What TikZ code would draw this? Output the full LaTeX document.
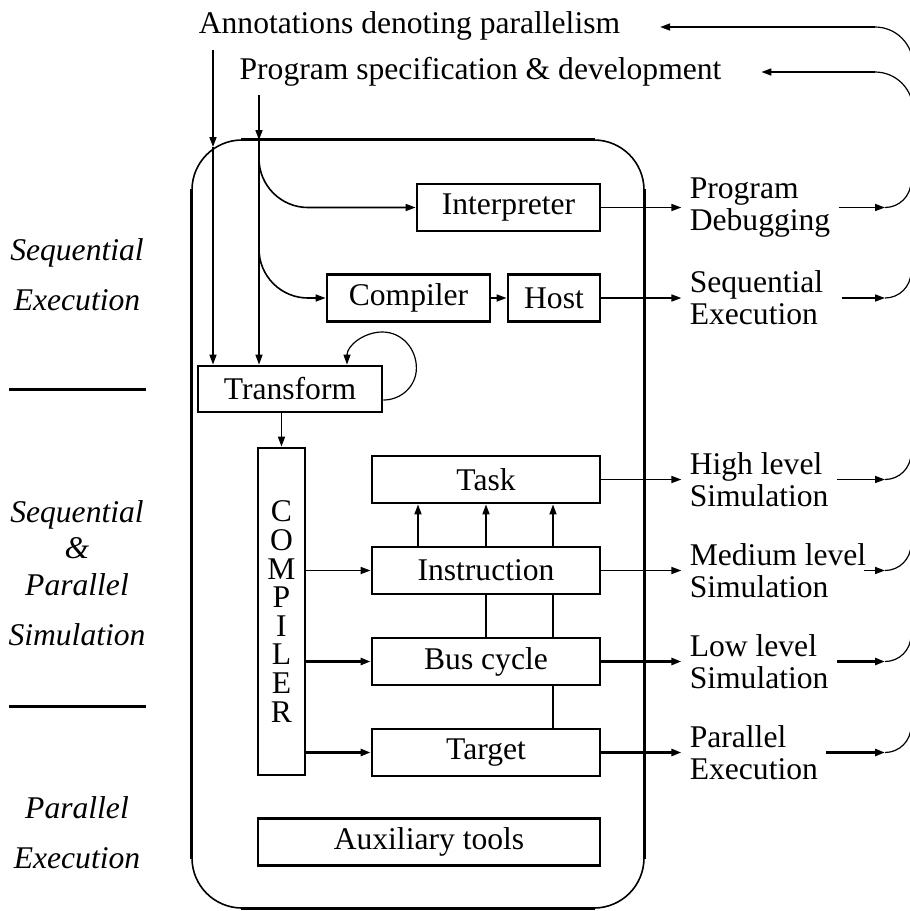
\documentclass[tikz,border=0pt]{standalone}
\usepackage{fontspec}
\setmainfont{Liberation Serif}
\usetikzlibrary{arrows.meta,positioning,calc}
\tikzset{
  blk/.style={draw, line width=1.4pt, inner sep=0pt, minimum height=23.5pt},
  conn/.style={-{Triangle[length=5pt,width=3.5pt]}, line width=0.8pt},
  heavy/.style={conn, line width=1.5pt},
  fback/.style={line width=0.6pt},
  outlbl/.style={align=left, inner xsep=4pt, inner ysep=0pt},
  toplbl/.style={anchor=base, inner sep=0pt, outer xsep=20pt},
  phase/.style={align=center, inner sep=0pt, font=\fontsize{15.8}{25}\selectfont\itshape},
  rule/.style={line width=1.5pt}
}

\begin{document}
\begin{tikzpicture}[x=0.5pt, y=0.5pt, font=\fontsize{15.8}{16}\selectfont, node distance=20.6pt]
  \useasboundingbox (0,0) rectangle (910,-911);
  % inputs at the top
  \node[toplbl] (annot) at (409.5,-33) {Annotations denoting parallelism};
  \node[toplbl] (spec) at (480.5,-79) {Program specification \& development};
  % the environment
  \node[draw, line width=0.8pt, rounded corners=25pt, minimum width=226pt,
        minimum height=384pt, inner sep=0pt] (frame) at (418,-524) {};
  \draw[rule] ([xshift=25pt]frame.north west) -- ([xshift=-25pt]frame.north east);
  \draw[rule] ([yshift=-25pt]frame.north west) -- ([yshift=25pt]frame.south west);
  \draw[rule] ([yshift=-25pt]frame.north east) -- ([yshift=25pt]frame.south east);
  \draw[rule] ([xshift=25pt]frame.south west) -- ([xshift=-25pt]frame.south east);
  \node[blk, minimum width=91.5pt] (interp) at (508.5,-207.5) {Interpreter};
  \node[blk, minimum width=81.5pt] (comp) at (408.5,-298) {Compiler};
  \node[blk, minimum width=46pt] (host) at (554,-298) {Host};
  \node[blk, minimum width=92pt, minimum height=23pt] (transform) at (290,-389) {Transform};
  \node[blk, minimum width=23.5pt, minimum height=163.5pt, align=center,
        font=\fontsize{15.8}{14.3}\selectfont] (compv) at (281.5,-611.5) {C\\O\\M\\P\\I\\L\\E\\R};
  \node[blk, minimum width=114pt] (task) at (486,-479.5) {Task};
  \node[blk, minimum width=114pt, below=of task] (instr) {Instruction};
  \node[blk, minimum width=114pt, below=of instr] (bus) {Bus cycle};
  \node[blk, minimum width=114pt, below=of bus] (target) {Target};
  \node[blk, minimum width=171pt] (aux) at (429,-842) {Auxiliary tools};
  % results on the right
  \node[outlbl, right=40pt of interp] (dbg) {Program\\Debugging};
  \node[outlbl, right=40pt of host] (seqx) {Sequential\\Execution};
  \node[outlbl, right=40pt of task] (hisim) {High level\\Simulation};
  \node[outlbl, right=40pt of instr] (medsim) {Medium level\\Simulation};
  \node[outlbl, right=40pt of bus] (losim) {Low level\\Simulation};
  \node[outlbl, right=40pt of target] (parx) {Parallel\\Execution};
  % phases on the left
  \node[phase] (seqexec) at (77,-275) {Sequential\\Execution};
  \node[phase] (seqpar) at (77,-573) {Sequential\\[-7pt]\&\\[-6.5pt]Parallel\\Simulation};
  \node[phase] (parexec) at (77,-832.5) {Parallel\\Execution};
  \draw[rule] (9,-389) -- (146,-389);
  \draw[rule] (9,-706) -- (146,-706);
  % inputs down into the environment
  \coordinate (annin) at (213,-50);
  \coordinate (annx) at (213,-147);
  \coordinate (specin) at (259,-95);
  \coordinate (specx) at (259,-140);
  \coordinate (br1) at (259,-157.5);
  \coordinate (br2) at (259,-248);
  \draw[conn] (annin) -- (annx);
  \draw[conn] (annx) -- (annx |- transform.north);
  \draw[conn] (specin) -- (specx);
  \draw[conn] (specx) -- (specx |- transform.north);
  \draw[conn, rounded corners=24.5pt] (br1) |- (interp.west);
  \draw[conn, rounded corners=24.5pt] (br2) |- (comp.west);
  \draw[conn] (comp) -- (host);
  \draw[conn, line width=0.6pt] ([yshift=-5.5pt]transform.east) to[out=0,in=-90] ++(16.5pt,16pt)
    to[out=90,in=0] ++(-17pt,18pt) to[out=180,in=90] ([xshift=28.5pt]transform.north);
  \draw[conn] (transform.south -| compv.north) -- (compv.north);
  \draw[conn] (compv.east |- instr.west) -- (instr.west);
  \draw[heavy] (compv.east |- bus.west) -- (bus.west);
  \draw[heavy] (compv.east |- target.west) -- (target.west);
  \draw[conn] ([xshift=-34pt]instr.north) -- ([xshift=-34pt]task.south);
  \draw[conn] (instr.north) -- (task.south);
  \draw[conn] ([xshift=33.5pt]instr.north) -- ([xshift=33.5pt]task.south);
  \draw[line width=0.8pt] (instr.south) -- (bus.north);
  \draw[line width=0.8pt] ([xshift=33.5pt]instr.south) -- ([xshift=33.5pt]bus.north);
  \draw[line width=0.8pt] ([xshift=33.5pt]bus.south) -- ([xshift=33.5pt]target.north);
  \draw[conn] (interp) -- (dbg);
  \draw[conn] (host) -- (seqx);
  \draw[conn] (task) -- (hisim);
  \draw[conn] (instr) -- (medsim);
  \draw[heavy] (bus) -- (losim);
  \draw[heavy] (target) -- (parx);
  % feedback to the top
  \coordinate (fbA) at (875,-27);
  \coordinate (fbB) at (875,-72);
  \coordinate (t1) at (885,-207.5);
  \coordinate (t2) at (885,-298);
  \coordinate (t3) at (885,-479.5);
  \coordinate (t4) at (885,-570.5);
  \coordinate (t5) at (885,-661.5);
  \coordinate (t6) at (885,-752.5);
  \draw[conn] (fbA) -- (fbA -| annot.east);
  \draw[conn] (fbB) -- (fbB -| spec.east);
  \draw[fback] (fbA) arc[start angle=90, end angle=0, radius=19pt];
  \draw[fback] (fbB) arc[start angle=90, end angle=0, radius=19pt];
  \draw[conn] (dbg.east) -- (t1);
  \draw[conn] ([xshift=5pt]seqx.east) -- (t2);
  \draw[conn] (hisim.east) -- (t3);
  \draw[conn] ([xshift=-5.5pt]medsim.east) -- (t4);
  \draw[heavy] (losim.east) -- (t5);
  \draw[heavy] (parx.east) -- (t6);
  \draw[fback] (t1) arc[start angle=-90, end angle=0, radius=13pt];
  \draw[fback] (t2) arc[start angle=-90, end angle=0, radius=13pt];
  \draw[fback] (t3) arc[start angle=-90, end angle=0, radius=13pt];
  \draw[fback] (t4) arc[start angle=-90, end angle=0, radius=13pt];
  \draw[fback] (t5) arc[start angle=-90, end angle=0, radius=13pt];
  \draw[fback] (t6) arc[start angle=-90, end angle=0, radius=13pt];
\end{tikzpicture}
\end{document}
